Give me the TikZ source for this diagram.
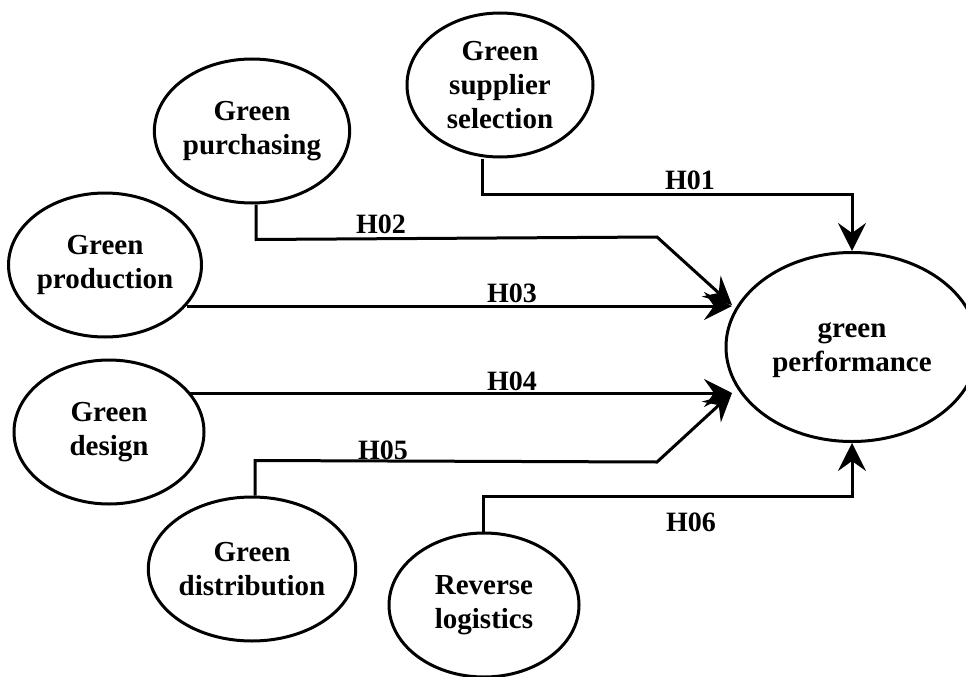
\documentclass[tikz,border=0pt]{standalone}
\usepackage{fontspec}
\setmainfont{Liberation Serif}
\usetikzlibrary{shapes.geometric,arrows.meta}

\begin{document}
\begin{tikzpicture}[x=1pt,y=-1pt,
    oval/.style={draw, ellipse, line width=3pt, inner sep=0pt,
        minimum width=190pt, minimum height=144pt, align=center,
        font=\bfseries\fontsize{29}{34}\selectfont},
    hyp/.style={anchor=base, inner sep=0pt, font=\bfseries\fontsize{28}{30}\selectfont},
    arr/.style={line width=3pt, -{Stealth[length=28pt,width=28pt,inset=10pt]}}]

\useasboundingbox (0,0) rectangle (966,677);

\def\dy{35};

% constructs
\node[oval, minimum width=186pt] (sup) at (500,85) {Green\\supplier\\selection};
\node[oval] (pur) at (252,131) {Green\\purchasing};
\node[oval] (prod) at (105,265) {Green\\production};
\node[oval] (des) at (109,432) {Green\\design};
\node[oval] (dist) at (252,569) {Green\\distribution};
\node[oval] (rev) at (484,605) {Reverse\\logistics};
\node[oval, minimum width=252pt, minimum height=189pt, text depth=-12pt] (perf) at (852,347) {green\\performance};

% arrow tips on the left of green performance
\coordinate (tup) at (732,305);
\coordinate (tdn) at (732,393);

% hypotheses
\draw[arr] ([xshift=-18pt]sup.south) -- ++(0,36) -| (perf.north);
\draw[arr] ([xshift=4pt]pur.south) -- ++(0,\dy) -- (657,237) -- (tup);
\draw[arr] ([shift={(82,41)}]prod.center) -- (tup |- 0,306);
\draw[arr] ([shift={(80,-39)}]des.center) -- (tdn);
\draw[arr] ([xshift=3pt]dist.north) -- ++(0,-\dy) -- (657,462) -- (tdn);
\draw[arr] ([xshift=-1pt]rev.north) -- ++(0,-\dy) -| (perf.south);

\node[hyp] (h1) at (690,189) {H01};
\node[hyp] (h2) at (381,233) {H02};
\node[hyp] (h3) at (512,302) {H03};
\node[hyp] (h4) at (512,390) {H04};
\node[hyp] (h5) at (383,459) {H05};
\node[hyp] (h6) at (691,531) {H06};

\end{tikzpicture}
\end{document}
